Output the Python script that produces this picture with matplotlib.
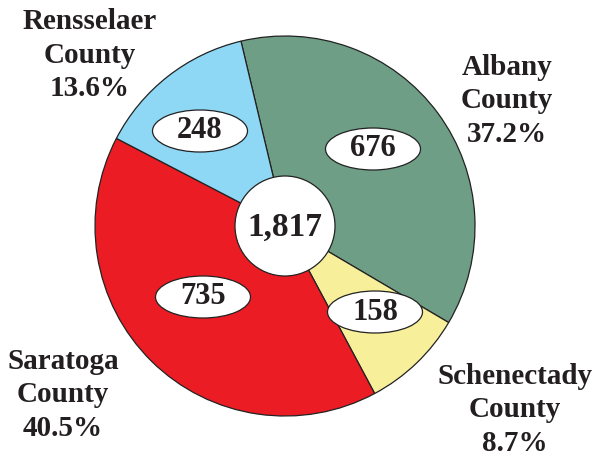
import matplotlib
matplotlib.use("Agg")
import matplotlib.pyplot as plt
from matplotlib.patches import Ellipse, Circle

# Data
counties = ["Albany", "Schenectady", "Saratoga", "Rensselaer"]
counts = [676, 158, 735, 248]
shares = ["37.2%", "8.7%", "40.5%", "13.6%"]
total = "1,817"
colors = ["#6F9E86", "#F8EF9A", "#EC1C24", "#8ED7F5"]

W, H = 597, 456
fig = plt.figure(figsize=(W / 100, H / 100), dpi=100)
ax = fig.add_axes([0, 0, 1, 1])

cx, cy, r = 285, H - 227, 190
ax.pie(counts, colors=colors, startangle=103.4, counterclock=False,
       center=(cx, cy), radius=r,
       wedgeprops=dict(edgecolor="#222222", linewidth=0.9))

ax.set_xlim(0, W)
ax.set_ylim(0, H)
ax.set_aspect("equal")
ax.axis("off")

font = dict(family="Liberation Serif", weight="bold", color="#231F20")

# centre circle with total
ax.add_patch(Circle((cx, cy), 50, facecolor="white", edgecolor="#222222", lw=0.9, zorder=3))
ax.text(cx, cy, total, ha="center", va="center", fontsize=24, zorder=4, **font)

# count ellipses (pixel positions of the label bubbles)
bubble_pos = [(373, 150), (375, 313), (203, 298), (200, 132)]
for (bx, by), n in zip(bubble_pos, counts):
    ax.add_patch(Ellipse((bx, H - by), 95, 42, facecolor="white",
                         edgecolor="#222222", lw=0.9, zorder=3))
    ax.text(bx, H - by + 1, str(n), ha="center", va="center", fontsize=22, zorder=4, **font)

# outside labels
label_pos = [(507, 101), (515, 410), (63, 395), (90, 55)]
for (lx, ly), name, pct in zip(label_pos, counties, shares):
    ax.text(lx, H - ly, f"{name}\nCounty\n{pct}", ha="center", va="center",
            fontsize=21, linespacing=1.33, **font)

fig.savefig("out.png", dpi=100)
